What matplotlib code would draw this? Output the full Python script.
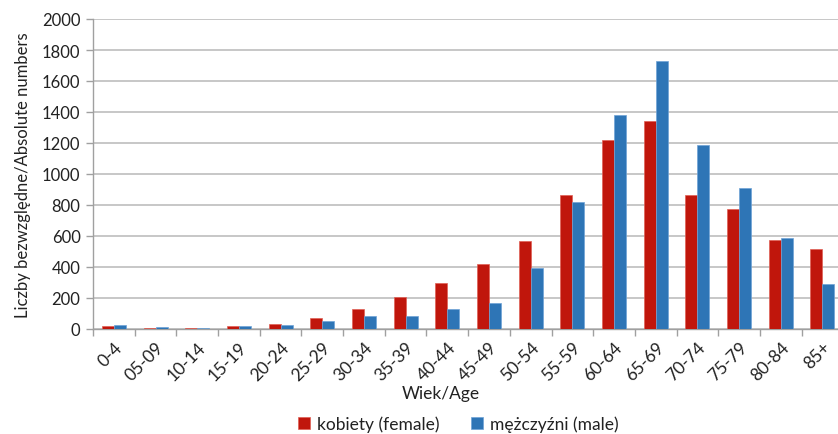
import matplotlib
matplotlib.use("Agg")
import matplotlib.pyplot as plt
import numpy as np

categories = ["0-4", "05-09", "10-14", "15-19", "20-24", "25-29", "30-34", "35-39",
              "40-44", "45-49", "50-54", "55-59", "60-64", "65-69", "70-74", "75-79",
              "80-84", "85+"]
female = [21, 9, 7, 19, 34, 69, 129, 206, 295, 419, 568, 865, 1217, 1340, 865, 772, 572, 516]
male = [28, 10, 7, 17, 28, 54, 84, 86, 127, 170, 391, 819, 1381, 1729, 1187, 908, 587, 292]
yticks = [0, 200, 400, 600, 800, 1000, 1200, 1400, 1600, 1800, 2000]

plt.rcParams['font.family'] = ['Lato', 'DejaVu Sans']

W, H = 838, 435
fig = plt.figure(figsize=(W / 100, H / 100), dpi=100)
left, right, top, bottom = 93, 843.3, 20, 330
ax = fig.add_axes([left / W, 1 - bottom / H, (right - left) / W, (bottom - top) / H])

x = np.arange(len(categories))
bw = 0.288
red = "#C0160C"
blue = "#2E75B6"
ax.bar(x - bw / 2, female, width=bw, color=red, edgecolor="#E06055", linewidth=0.5,
       label="kobiety (female)", zorder=3)
ax.bar(x + bw / 2, male, width=bw, color=blue, edgecolor="#6FA3D6", linewidth=0.5,
       label="mężczyźni (male)", zorder=3)

ax.set_xlim(-0.5, len(categories) - 0.5)
ax.set_ylim(0, 2000)
ax.set_yticks(yticks)
ax.set_yticklabels([str(v) for v in yticks], fontsize=12, color="#222222")
ax.yaxis.grid(True, color="#BDBDBD", linewidth=1.2, zorder=0)
ax.set_axisbelow(True)

ax.set_xticks(x)
ax.set_xticklabels(categories, rotation=45, ha="right", rotation_mode="anchor",
                   fontsize=12.5, color="#222222")
ax.tick_params(axis="x", length=0, pad=7)
ax.set_xticks(np.arange(-0.5, len(categories), 1), minor=True)
ax.tick_params(axis="x", which="minor", length=5, color="#A0A0A0", width=1)
ax.tick_params(axis="y", length=5, color="#A0A0A0", width=1, pad=4)

for s in ["top", "right"]:
    ax.spines[s].set_visible(False)
for s in ["left", "bottom"]:
    ax.spines[s].set_color("#A0A0A0")
    ax.spines[s].set_linewidth(1)

ax.set_ylabel("Liczby bezwzględne/Absolute numbers", fontsize=12, color="#222222", labelpad=8)
fig.text(441 / W, 1 - 394 / H, "Wiek/Age", ha="center", va="center", fontsize=12.5, color="#222222")

leg = ax.legend(loc="center", bbox_to_anchor=(458 / W, 1 - 425 / H), bbox_transform=fig.transFigure,
                ncol=2, frameon=False, fontsize=12.5, handlelength=0.7, handleheight=0.7,
                handletextpad=0.4, columnspacing=1.8, labelcolor="#222222")

fig.savefig("out.png", dpi=100)
